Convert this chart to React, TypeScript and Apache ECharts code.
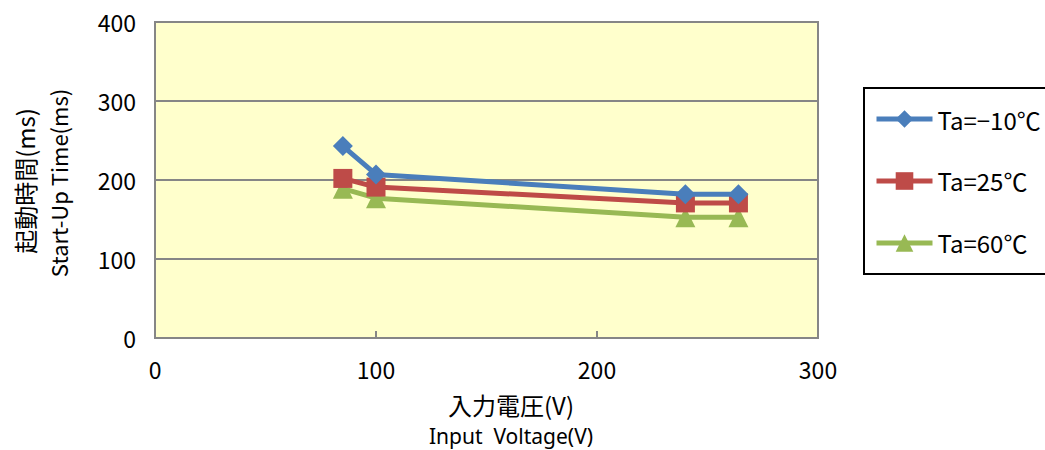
import React, { useEffect, useRef } from "react";
import * as echarts from "echarts";

const voltages = [85, 100, 240, 264];
const seriesNames = ["Ta=−10℃", "Ta=25℃", "Ta=60℃"];
const tempMinus10 = [243, 207, 182, 182];
const temp25 = [202, 191, 171, 171];
const temp60 = [189, 177, 153, 153];
const colors = ["#4A7EBB", "#BE4B48", "#98B954"];
const symbols = ["diamond", "rect", "triangle"];
const yTitleJa = "起動時間(ms)";
const yTitleEn = "Start-Up Time(ms)";
const xTitleJa = "入力電圧(V)";
const xTitleEn = "Input  Voltage(V)";

const FONT = "'Noto Sans CJK JP', 'Noto Sans', sans-serif";
const LATIN = "'Noto Sans', sans-serif";

export default function App() {
  const ref = useRef<HTMLDivElement>(null);
  useEffect(() => {
    if (!ref.current) return;
    const chart = echarts.init(ref.current, undefined, { renderer: "svg" });
    const allData = [tempMinus10, temp25, temp60];
    chart.setOption({
      animation: false,
      backgroundColor: "#ffffff",
      textStyle: { fontFamily: FONT },
      grid: {
        left: 155,
        top: 22,
        width: 663,
        height: 316,
        show: true,
        backgroundColor: "#FFFFCC",
        borderColor: "#868686",
        borderWidth: 2,
      },
      legend: {
        orient: "vertical",
        left: 874,
        top: 107,
        itemWidth: 56,
        itemHeight: 22,
        itemGap: 38,
        padding: 0,
        borderWidth: 0,
        lineStyle: { width: 5 },
        textStyle: { fontSize: 24, color: "#000", fontFamily: FONT },
        data: seriesNames,
      },
      xAxis: {
        type: "value",
        min: 0,
        max: 300,
        interval: 100,
        axisLine: { show: true, lineStyle: { color: "#868686", width: 2 } },
        axisTick: { show: true, inside: true, length: 7, lineStyle: { color: "#868686", width: 2 } },
        splitLine: { show: false },
        axisLabel: { fontSize: 23, color: "#000", margin: 19, fontFamily: FONT },
      },
      yAxis: {
        type: "value",
        min: 0,
        max: 400,
        interval: 100,
        axisLine: { show: true, lineStyle: { color: "#868686", width: 2 } },
        axisTick: { show: true, inside: true, length: 7, lineStyle: { color: "#868686", width: 2 } },
        splitLine: { show: true, lineStyle: { color: "#868686", width: 2 } },
        axisLabel: { fontSize: 23, color: "#000", margin: 19, fontFamily: FONT },
      },
      graphic: [
        {
          type: "rect",
          z: -1,
          shape: { x: 864, y: 88, width: 220, height: 186 },
          style: { fill: "#ffffff", stroke: "#000000", lineWidth: 2 },
        },
        {
          type: "text",
          x: 24,
          y: 181,
          rotation: Math.PI / 2,
          style: {
            text: yTitleJa,
            fontSize: 24,
            fontFamily: FONT,
            fill: "#000",
            align: "center",
            verticalAlign: "middle",
          },
        },
        {
          type: "text",
          x: 58,
          y: 183,
          rotation: Math.PI / 2,
          style: {
            text: yTitleEn,
            fontSize: 22,
            fontFamily: FONT,
            fill: "#000",
            align: "center",
            verticalAlign: "middle",
          },
        },
        {
          type: "text",
          x: 511,
          y: 404,
          style: {
            text: xTitleJa,
            fontSize: 24,
            fontFamily: FONT,
            fill: "#000",
            align: "center",
            verticalAlign: "middle",
          },
        },
        {
          type: "text",
          x: 511,
          y: 436,
          style: {
            text: xTitleEn,
            fontSize: 21,
            fontFamily: LATIN,
            fill: "#000",
            align: "center",
            verticalAlign: "middle",
          },
        },
      ],
      series: seriesNames.map((name, i) => ({
        name,
        type: "line",
        data: voltages.map((v, j) => [v, allData[i][j]]),
        symbol: symbols[i],
        symbolSize: i === 0 ? 20 : i === 1 ? 19 : 20,
        lineStyle: { color: colors[i], width: 5 },
        itemStyle: { color: colors[i] },
        z: 3 - i,
      })),
    });
    return () => chart.dispose();
  }, []);
  return (
    <div
      ref={ref}
      style={{ position: "fixed", left: 0, top: 0, width: 1045, height: 450 }}
    />
  );
}
